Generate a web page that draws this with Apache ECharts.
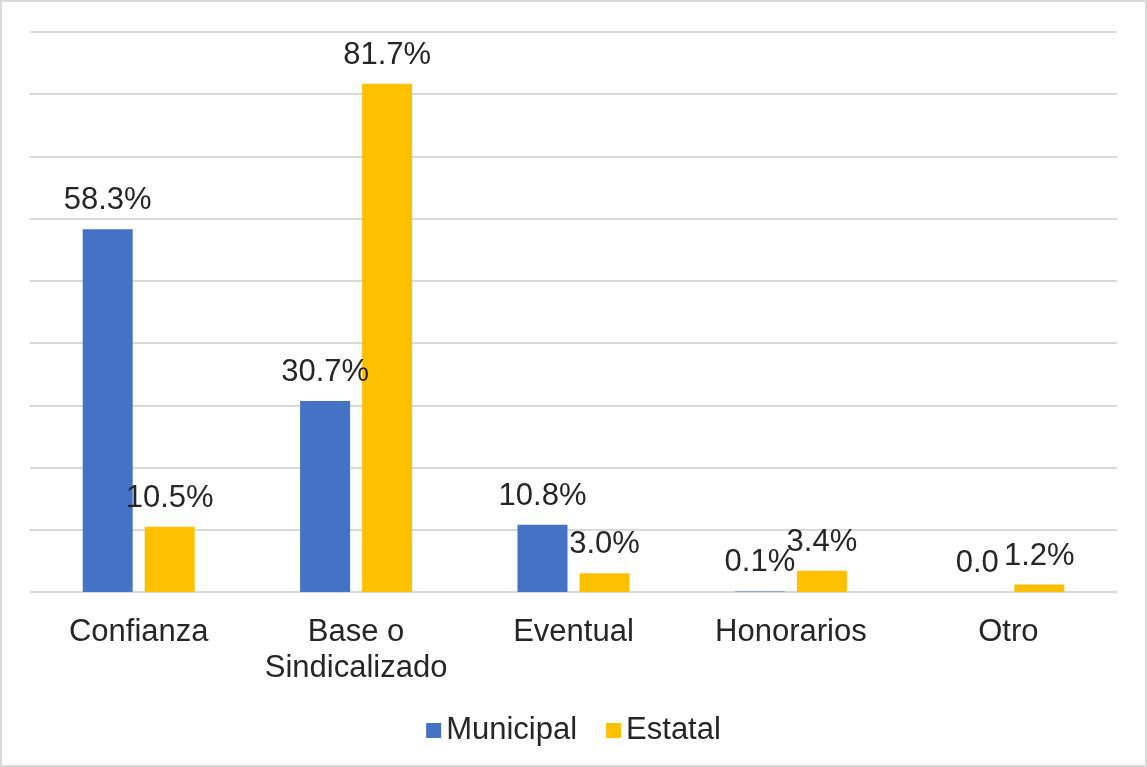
<!DOCTYPE html>
<html>
<head>
<meta charset="utf-8">
<script src="https://cdn.jsdelivr.net/npm/echarts@6/dist/echarts.min.js"></script>
<style>
    html, body { margin: 0; padding: 0; background: #fff; }
    #chart { width: 1143px; height: 763px; border: 2px solid #d9d9d9; }
</style>
</head>
<body>
<div id="chart"></div>
<script>
const categories = ['Confianza', 'Base o\nSindicalizado', 'Eventual', 'Honorarios', 'Otro'];
const municipal = [58.3, 30.7, 10.8, 0.1, 0.0];
const estatal = [10.5, 81.7, 3.0, 3.4, 1.2];
const seriesNames = ['Municipal', 'Estatal'];

const chartDom = document.getElementById('chart');
const myChart = echarts.init(chartDom, null, { renderer: 'canvas' });

const textColor = '#262626';
const fontFamily = '"Liberation Sans", Arial, sans-serif';

const labelFormatter = (params) => {
    // Excel wrote the zero value without the percent sign
    return params.value === 0 ? '0.0' : params.value.toFixed(1) + '%';
};

const option = {
    animation: false,
    textStyle: { fontFamily: fontFamily },
    grid: {
        left: 28,
        right: 28,
        top: 30,
        bottom: 173
    },
    legend: {
        data: seriesNames,
        top: 708,
        left: 'center',
        itemWidth: 15,
        itemHeight: 15,
        itemGap: 29,
        icon: 'rect',
        textStyle: {
            color: textColor,
            fontSize: 31,
            fontFamily: fontFamily
        }
    },
    xAxis: {
        type: 'category',
        data: categories,
        axisLine: { lineStyle: { color: '#d9d9d9', width: 2 } },
        axisTick: { show: false },
        axisLabel: {
            color: textColor,
            fontSize: 31,
            lineHeight: 36,
            margin: 22,
            interval: 0,
            fontFamily: fontFamily
        }
    },
    yAxis: {
        type: 'value',
        min: 0,
        max: 90,
        interval: 10,
        axisLabel: { show: false },
        axisLine: { show: false },
        axisTick: { show: false },
        splitLine: { lineStyle: { color: '#d9d9d9', width: 2 } }
    },
    series: [
        {
            name: seriesNames[0],
            type: 'bar',
            data: municipal,
            barWidth: 50,
            barGap: '24%',
            barMinHeight: 0,
            itemStyle: { color: '#4472C4' },
            label: {
                show: true,
                position: 'top',
                distance: 13,
                color: textColor,
                fontSize: 31,
                fontFamily: fontFamily,
                formatter: labelFormatter
            }
        },
        {
            name: seriesNames[1],
            type: 'bar',
            data: estatal,
            barWidth: 50,
            barGap: '24%',
            itemStyle: { color: '#FFC000' },
            label: {
                show: true,
                position: 'top',
                distance: 13,
                color: textColor,
                fontSize: 31,
                fontFamily: fontFamily,
                formatter: labelFormatter
            }
        }
    ]
};

myChart.setOption(option);
</script>
</body>
</html>
